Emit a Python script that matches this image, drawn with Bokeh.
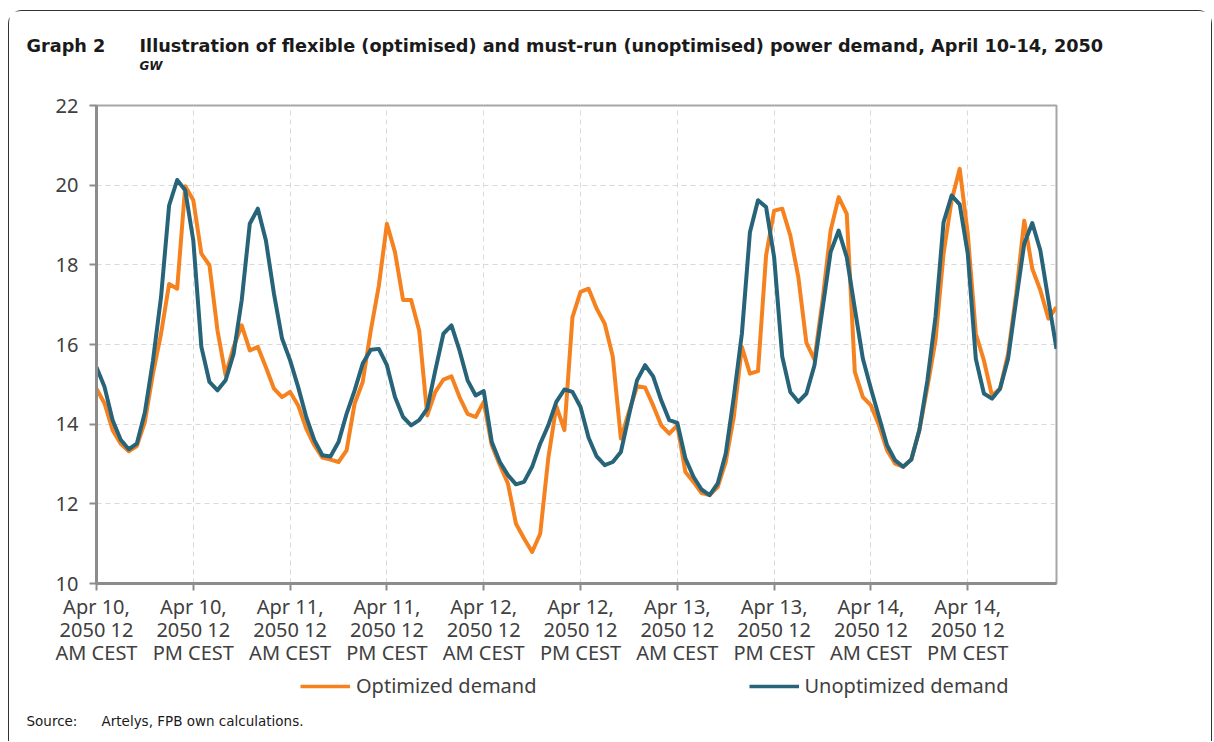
from bokeh.plotting import figure
from bokeh.layouts import column
from bokeh.models import Range1d, FixedTicker, Label, Legend, LegendItem, ColumnDataSource
from bokeh.embed import file_html
from bokeh.resources import INLINE

hours = list(range(120))

optimized = [14.89,14.52,13.85,13.51,13.32,13.45,14.06,15.27,16.27,17.52,17.4,19.97,19.62,18.28,17.99,16.35,15.23,15.94,16.48,15.85,
15.94,15.43,14.89,14.68,14.81,14.47,13.89,13.47,13.16,13.11,13.05,13.34,14.52,15.06,16.35,17.48,19.03,18.32,17.12,17.12,
16.35,14.22,14.81,15.12,15.2,14.68,14.26,14.18,14.56,13.47,12.97,12.51,11.5,11.13,10.79,11.25,13.14,14.45,13.85,16.69,
17.32,17.4,16.9,16.52,15.69,13.64,14.31,14.95,14.92,14.47,13.97,13.76,13.97,12.8,12.55,12.27,12.22,12.42,13.05,14.18,
15.94,15.27,15.33,18.24,19.36,19.41,18.74,17.69,16.04,15.62,17.11,18.86,19.7,19.28,15.31,14.68,14.47,13.97,13.34,13.01,
12.93,13.11,13.85,14.93,16.1,18.28,19.62,20.41,18.78,16.27,15.6,14.72,14.89,15.77,17.27,19.11,17.9,17.36,16.65,16.94]

unoptimized = [15.43,14.93,14.1,13.61,13.37,13.51,14.3,15.6,17.19,19.49,20.13,19.87,18.61,15.94,15.06,14.85,15.1,15.77,17.11,19.03,
19.41,18.61,17.27,16.15,15.6,14.93,14.18,13.6,13.22,13.19,13.55,14.26,14.85,15.52,15.87,15.89,15.48,14.68,14.18,13.97,
14.1,14.39,15.35,16.27,16.48,15.85,15.1,14.72,14.83,13.55,13.05,12.72,12.49,12.55,12.93,13.51,13.97,14.56,14.87,14.81,
14.43,13.66,13.19,12.97,13.05,13.3,14.22,15.1,15.48,15.2,14.6,14.1,14.03,13.14,12.68,12.36,12.22,12.51,13.26,14.68,
16.27,18.82,19.62,19.45,18.19,15.7,14.81,14.56,14.77,15.48,16.9,18.32,18.86,18.19,16.9,15.64,14.89,14.18,13.47,13.09,
12.93,13.11,13.85,15.1,16.69,19.07,19.74,19.52,18.28,15.64,14.77,14.64,14.89,15.64,17.11,18.53,19.05,18.36,17.11,15.89]

x_ticks = [0, 12, 24, 36, 48, 60, 72, 84, 96, 108]
x_tick_labels = ["Apr 10,\n2050 12\nAM CEST", "Apr 10,\n2050 12\nPM CEST",
                 "Apr 11,\n2050 12\nAM CEST", "Apr 11,\n2050 12\nPM CEST",
                 "Apr 12,\n2050 12\nAM CEST", "Apr 12,\n2050 12\nPM CEST",
                 "Apr 13,\n2050 12\nAM CEST", "Apr 13,\n2050 12\nPM CEST",
                 "Apr 14,\n2050 12\nAM CEST", "Apr 14,\n2050 12\nPM CEST"]
y_ticks = [10, 12, 14, 16, 18, 20, 22]

title_label = "Graph 2"
title_text = "Illustration of flexible (optimised) and must-run (unoptimised) power demand, April 10-14, 2050"
unit_text = "GW"
source_label = "Source:"
source_text = "Artelys, FPB own calculations."
series_names = ["Optimized demand", "Unoptimized demand"]

ORANGE = "#F5821F"
BLUE = "#27647A"
TEXT = "#404040"
DARK = "#1a1a1a"
FONT = "Noto Sans"
W = 1202

src = ColumnDataSource(dict(hour=hours, opt=optimized, unopt=unoptimized))


def bare_fig(h, xr=None, yr=None):
    f = figure(width=W, height=h, output_backend="svg", toolbar_location=None, title=None,
               x_range=xr or Range1d(0, 1), y_range=yr or Range1d(0, 1),
               min_border=0, x_axis_location=None, y_axis_location=None)
    f.frame_align = False
    f.xgrid.visible = False
    f.ygrid.visible = False
    f.outline_line_color = None
    return f


def lab(f, x, y, text, size, style="normal", font="DejaVu Sans", color=DARK):
    f.add_layout(Label(x=x, y=y, x_units="screen", y_units="screen", text=text,
                       text_font=font, text_font_size=size, text_font_style=style,
                       text_color=color, text_baseline="middle", text_align="left"))


# ---- header ----
top = bare_fig(78)
lab(top, 17, 44, title_label, "17.7px", "bold")
lab(top, 130, 44, title_text, "17.7px", "bold")
lab(top, 130, 24, unit_text, "12px", "bold italic")

# ---- main chart ----
p = figure(width=W, height=582, output_backend="svg", toolbar_location=None, title=None,
           x_range=Range1d(0, 119), y_range=Range1d(10, 22),
           min_border_left=87, min_border_right=155, min_border_top=16, min_border_bottom=88)
p.outline_line_color = "#A6A6A6"
p.outline_line_width = 2

for ax in (p.xaxis[0], p.yaxis[0]):
    ax.axis_line_color = "#8C8C8C"
    ax.axis_line_width = 3
    ax.major_tick_line_color = "#8C8C8C"
    ax.major_tick_line_width = 2
    ax.major_tick_in = 0
    ax.major_tick_out = 7
    ax.minor_tick_line_color = None
    ax.major_label_text_font = FONT
    ax.major_label_text_font_size = "20px"
    ax.major_label_text_color = TEXT

p.xaxis.ticker = FixedTicker(ticks=x_ticks)
p.xaxis.major_label_overrides = {t: l for t, l in zip(x_ticks, x_tick_labels)}
p.xaxis.major_label_standoff = 2
p.xaxis.major_label_text_line_height = 0.86
p.yaxis.ticker = FixedTicker(ticks=y_ticks)
p.yaxis.major_label_standoff = 11

p.xgrid.ticker = FixedTicker(ticks=x_ticks)
for g in (p.xgrid[0], p.ygrid[0]):
    g.grid_line_color = "#D9D9D9"
    g.grid_line_dash = "5 4"
    g.grid_line_width = 1

p.line("hour", "opt", source=src, line_color=ORANGE, line_width=4, line_join="round")
p.line("hour", "unopt", source=src, line_color=BLUE, line_width=4, line_join="round")

# ---- footer: legend + source (legend proxies use same data, kept out of view) ----
bottom = bare_fig(70, xr=Range1d(0, 119), yr=Range1d(100, 101))
lo = bottom.line("hour", "opt", source=src, line_color=ORANGE, line_width=3.5)
lu = bottom.line("hour", "unopt", source=src, line_color=BLUE, line_width=3.5)
legend = Legend(items=[LegendItem(label=series_names[0], renderers=[lo]),
                       LegendItem(label=series_names[1], renderers=[lu])],
                orientation="horizontal", location=(291, 42),
                glyph_width=50, glyph_height=20, label_standoff=6, spacing=212,
                padding=0, margin=0, border_line_color=None, background_fill_alpha=0,
                label_text_font=FONT, label_text_font_size="20px", label_text_color=TEXT)
bottom.add_layout(legend, "center")
lab(bottom, 17, 21, source_label, "13.5px")
lab(bottom, 92, 21, source_text, "13.5px")

layout = column(top, p, bottom, spacing=0,
                styles={"margin-left": "8px", "margin-top": "10px",
                        "border": "1px solid #333333", "border-bottom": "none",
                        "border-radius": "14px 14px 0 0"})

open("out.html", "w").write(file_html(layout, INLINE))
